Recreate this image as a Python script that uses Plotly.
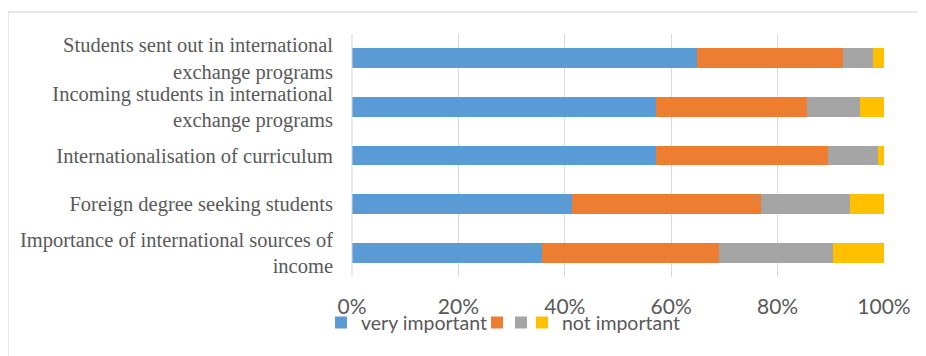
import plotly.graph_objects as go

categories = [
    "Students sent out in international<br>exchange programs",
    "Incoming students in international<br>exchange programs",
    "Internationalisation of curriculum",
    "Foreign degree seeking students",
    "Importance of international sources of<br>income",
]
series_names = ["very important", "", "", "not important"]
very_important = [64.8, 57.2, 57.1, 41.4, 35.7]
important = [27.4, 28.3, 32.3, 35.5, 33.2]
less_important = [5.7, 9.9, 9.4, 16.7, 21.6]
not_important = [2.1, 4.6, 1.2, 6.4, 9.5]
tick_vals = [0, 20, 40, 60, 80, 100]
tick_text = ["0%", "20%", "40%", "60%", "80%", "100%"]

colors = ["#5B9BD5", "#ED7D31", "#A5A5A5", "#FFC000"]
series = [very_important, important, less_important, not_important]
legend_ids = ["legend", "legend2", "legend3", "legend4"]
legend_x = [-0.0583, 0.2350, 0.2801, 0.3195]

fig = go.Figure()
for name, vals, col, lg in zip(series_names, series, colors, legend_ids):
    fig.add_trace(go.Bar(
        y=categories, x=vals, orientation="h", name=name,
        marker=dict(color=col, line=dict(width=0)), legend=lg,
    ))

legend_style = dict(
    orientation="h", xanchor="left", y=-0.189, yanchor="middle",
    font=dict(family="Lato", size=19.5, color="#595959"),
    bgcolor="rgba(0,0,0,0)", itemwidth=30,
)
legends = {lg: dict(legend_style, x=lx) for lg, lx in zip(legend_ids, legend_x)}

fig.update_layout(
    width=918, height=348,
    barmode="stack", bargap=0.59,
    margin=dict(l=344, r=42, t=26, b=79),
    paper_bgcolor="white", plot_bgcolor="white",
    showlegend=True,
    **legends,
    xaxis=dict(
        range=[0, 100], tickvals=tick_vals, ticktext=tick_text,
        showgrid=True, gridcolor="#D9D9D9", gridwidth=1,
        zeroline=False, showline=False,
        tickfont=dict(family="Lato", size=21, color="#595959"),
        ticklabelstandoff=15, fixedrange=True,
    ),
    yaxis=dict(
        autorange="reversed", showgrid=False, zeroline=False,
        showline=False,
        tickfont=dict(family="Liberation Serif", size=20.5, color="#595959"),
        ticklabelstandoff=18,
    ),
    shapes=[
        dict(type="line", xref="paper", yref="paper", x0=0, x1=0, y0=0, y1=1,
             line=dict(color="#D9D9D9", width=1)),
        dict(type="line", xref="paper", yref="paper", x0=-344 / 532, x1=1.2,
             y0=1 + 22 / 243, y1=1 + 22 / 243,
             line=dict(color="#D0D0D0", width=1)),
        dict(type="line", xref="paper", yref="paper", x0=-344 / 532, x1=-344 / 532,
             y0=-0.4, y1=1 + 22 / 243,
             line=dict(color="#D0D0D0", width=1)),
    ],
)

fig.write_html("out.html")
